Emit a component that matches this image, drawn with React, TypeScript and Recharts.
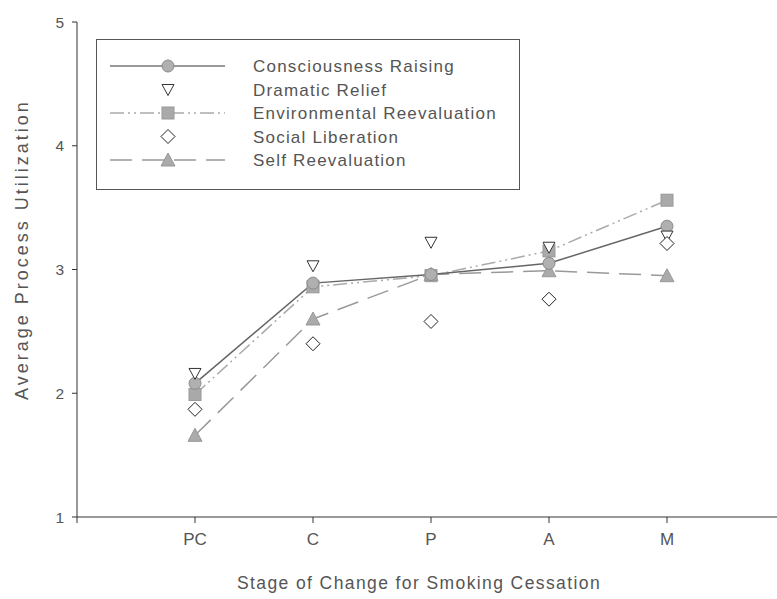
import React from "react";
import { LineChart, Line, XAxis, YAxis } from "recharts";

// stages of change, placed at 1..5 on a 0..6 numeric axis
const stages = ["PC", "C", "P", "A", "M"];
const stagePos = [1, 2, 3, 4, 5];

const consciousness = [2.08, 2.89, 2.96, 3.05, 3.35];
const dramatic = [2.16, 3.03, 3.22, 3.18, 3.27];
const environmental = [1.99, 2.86, 2.95, 3.15, 3.56];
const social = [1.87, 2.4, 2.58, 2.76, 3.21];
const selfReeval = [1.66, 2.6, 2.96, 2.99, 2.95];

const yTicks = [1, 2, 3, 4, 5];
const xTicks = [0, 1, 2, 3, 4, 5, 6];

const data = stagePos.map((x, i) => ({
  x,
  consciousness: consciousness[i],
  dramatic: dramatic[i],
  environmental: environmental[i],
  social: social[i],
  selfReeval: selfReeval[i],
}));

const FONT = "'Liberation Sans', Arial, sans-serif";

const Circle = ({ cx, cy }: any) => (
  <circle cx={cx} cy={cy} r={6} fill="#b0b0b0" stroke="#8a8a8a" strokeWidth={1} />
);
const Square = ({ cx, cy }: any) => (
  <rect x={cx - 6} y={cy - 6} width={12} height={12} fill="#a9a9a9" stroke="#999" strokeWidth={1} />
);
const TriDown = ({ cx, cy }: any) => (
  <path d={`M${cx - 6},${cy - 5} L${cx + 6},${cy - 5} L${cx},${cy + 6} Z`} fill="#fff" stroke="#333" strokeWidth={1} />
);
const Diamond = ({ cx, cy }: any) => (
  <path d={`M${cx},${cy - 7} L${cx + 7},${cy} L${cx},${cy + 7} L${cx - 7},${cy} Z`} fill="#fff" stroke="#222" strokeWidth={1} />
);
const TriUp = ({ cx, cy }: any) => (
  <path d={`M${cx},${cy - 7} L${cx + 7},${cy + 6} L${cx - 7},${cy + 6} Z`} fill="#aaa" stroke="#999" strokeWidth={1} />
);

const legendItems = [
  { name: "Consciousness Raising", stroke: "#777", dash: undefined as string | undefined, Mark: Circle },
  { name: "Dramatic Relief", stroke: "none", dash: undefined, Mark: TriDown },
  { name: "Environmental Reevaluation", stroke: "#aaa", dash: "14 4 2 4 2 4", Mark: Square },
  { name: "Social Liberation", stroke: "none", dash: undefined, Mark: Diamond },
  { name: "Self Reevaluation", stroke: "#999", dash: "22 10", Mark: TriUp },
];

const LegendBox = () => (
  <svg width={424} height={151} style={{ position: "absolute", left: 96, top: 39 }}>
    <rect x={0.5} y={0.5} width={423} height={150} fill="#fff" stroke="#555" />
    {legendItems.map((it, i) => {
      const y = 27 + i * 23.5;
      return (
        <g key={it.name}>
          {it.stroke !== "none" && (
            <line x1={14} x2={129} y1={y} y2={y} stroke={it.stroke} strokeWidth={1.5} strokeDasharray={it.dash} />
          )}
          <it.Mark cx={72} cy={y} />
          <text x={157} y={y + 6} fontSize={17} letterSpacing={1.2} fill="#555" fontFamily={FONT}>
            {it.name}
          </text>
        </g>
      );
    })}
  </svg>
);

export default function App() {
  return (
    <div style={{ position: "absolute", left: 0, top: 0, width: 777, height: 599, overflow: "hidden", background: "#fff" }}>
      <LineChart
        width={795}
        height={599}
        data={data}
        margin={{ top: 22, right: 10, bottom: 0, left: 0 }}
        style={{ fontFamily: FONT }}
      >
        <XAxis
          dataKey="x"
          type="number"
          domain={[0, 6]}
          ticks={xTicks}
          tickFormatter={(v: number) => stages[v - 1] ?? ""}
          height={82}
          tickSize={6}
          tickMargin={10}
          stroke="#333"
          tick={{ fill: "#555", fontSize: 17 }}
          label={{ value: "Stage of Change for Smoking Cessation", position: "insideBottom", offset: 10, dx: -12, fill: "#555", fontSize: 17.5, letterSpacing: 1.4 }}
        />
        <YAxis
          type="number"
          domain={[1, 5]}
          ticks={yTicks}
          width={77}
          tickSize={5}
          tickMargin={8}
          stroke="#333"
          tick={{ fill: "#555", fontSize: 15.5 }}
          label={{ value: "Average Process Utilization", angle: -90, position: "insideLeft", offset: 22, dy: -20, fill: "#555", fontSize: 18, letterSpacing: 3, style: { textAnchor: "middle" } }}
        />
        <Line
          dataKey="environmental"
          stroke="#aaa"
          strokeWidth={1.5}
          strokeDasharray="14 4 2 4 2 4"
          dot={(p: any) => <Square key={`e${p.index}`} cx={p.cx} cy={p.cy} />}
          isAnimationActive={false}
        />
        <Line
          dataKey="selfReeval"
          stroke="#999"
          strokeWidth={1.5}
          strokeDasharray="22 10"
          dot={(p: any) => <TriUp key={`s${p.index}`} cx={p.cx} cy={p.cy} />}
          isAnimationActive={false}
        />
        <Line
          dataKey="consciousness"
          stroke="#666"
          strokeWidth={1.5}
          dot={(p: any) => <Circle key={`c${p.index}`} cx={p.cx} cy={p.cy} />}
          isAnimationActive={false}
        />
        <Line
          dataKey="dramatic"
          stroke="none"
          dot={(p: any) => <TriDown key={`d${p.index}`} cx={p.cx} cy={p.cy} />}
          isAnimationActive={false}
        />
        <Line
          dataKey="social"
          stroke="none"
          dot={(p: any) => <Diamond key={`l${p.index}`} cx={p.cx} cy={p.cy} />}
          isAnimationActive={false}
        />
      </LineChart>
      <LegendBox />
    </div>
  );
}
